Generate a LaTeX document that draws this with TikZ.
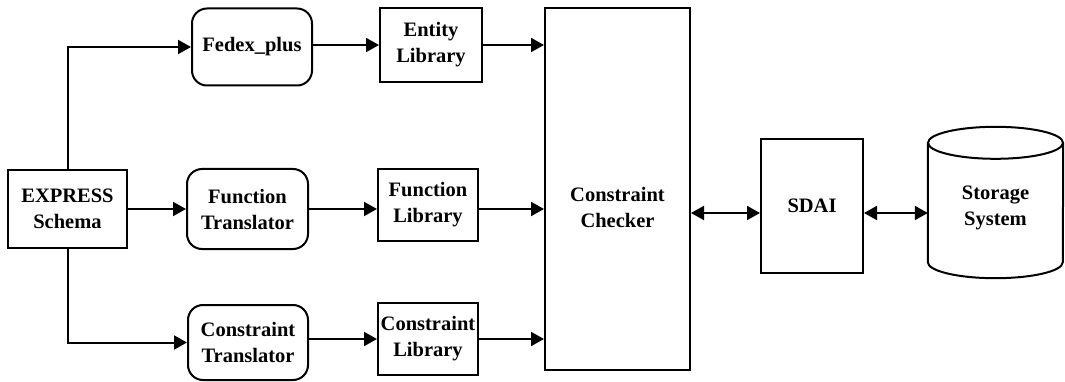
\documentclass[tikz,border=0pt]{standalone}
\usepackage{fontspec}
\setmainfont{Liberation Serif}
\usetikzlibrary{arrows.meta,positioning}

\begin{document}
\begin{tikzpicture}[
  x=1pt, y=-1pt,
  >={Triangle[length=13pt,width=14pt]},
  line cap=butt,
  line join=miter,
  every node/.style={font=\fontsize{20.5}{26}\selectfont\bfseries},
  box/.style={draw, line width=2pt, align=center, inner sep=0pt},
  rbox/.style={box, rounded corners=15pt},
  arrow/.style={->, line width=2pt},
  darrow/.style={<->, line width=2pt}
]
  \useasboundingbox (0,0) rectangle (1065,382);

  \node[box, minimum width=119pt, minimum height=77pt] (express) at (67.5,209) {EXPRESS\\Schema};

  \node[rbox, minimum width=120pt, minimum height=77pt] (fedex) at (252,47) {Fedex\_plus};
  \node[rbox, minimum width=121pt, minimum height=80pt] (funcTrans) at (247.5,209) {Function\\Translator};
  \node[rbox, minimum width=120pt, minimum height=75pt] (consTrans) at (248,342.5) {Constraint\\Translator};

  \node[box, minimum width=102pt, minimum height=74pt] (entityLib) at (431,45) {Entity\\Library};
  \node[box, minimum width=100pt, minimum height=72pt] (funcLib) at (428,205) {Function\\Library};
  \node[box, minimum width=100pt, minimum height=72pt] (consLib) at (428,339) {Constraint\\Library};

  % text of the checker sits below its centre
  \node[box, minimum width=145pt, minimum height=362pt,
    label={[align=center, yshift=-18pt]center:Constraint\\Checker}] (checker) at (617.5,189) {};
  \node[box, minimum width=102pt, minimum height=134pt] (sdai) at (812,206) {SDAI};
  \node[minimum width=135pt, minimum height=151pt, inner sep=0pt,
    label={[align=center, yshift=-5pt]center:Storage\\System}] (storage) at (995.5,202.5) {};

  % cylinder drawn round the storage node
  \draw[line width=2pt] ([yshift=-16pt]storage.north west) -- ([yshift=16pt]storage.south west)
    arc[start angle=180, end angle=360, x radius=67.5pt, y radius=16pt]
    -- ([yshift=-16pt]storage.north east);
  \draw[line width=2pt] ([yshift=-16pt]storage.north) ellipse[x radius=67.5pt, y radius=16pt];

  \coordinate (sdaiIn) at ([yshift=-7pt]sdai.west);

  \draw[arrow] (express.north) |- (fedex.west);
  \draw[arrow] (express.east) -- (funcTrans.west);
  \draw[arrow] (express.south) |- (consTrans.west);

  \draw[arrow] (fedex.east |- entityLib.west) -- (entityLib.west);
  \draw[arrow] (funcTrans.east) -- (funcTrans.east -| funcLib.west);
  \draw[arrow] (consTrans.east |- consLib.west) -- (consLib.west);

  \draw[arrow] (entityLib.east) -- (entityLib.east -| checker.west);
  \draw[arrow] (funcLib.east |- funcTrans.east) -- (funcTrans.east -| checker.west);
  \draw[arrow] (consLib.east) -- (consLib.east -| checker.west);

  \draw[darrow] (sdaiIn -| checker.east) -- (sdaiIn);
  \draw[darrow] (sdaiIn -| sdai.east) -- (sdaiIn -| storage.west);
\end{tikzpicture}
\end{document}
